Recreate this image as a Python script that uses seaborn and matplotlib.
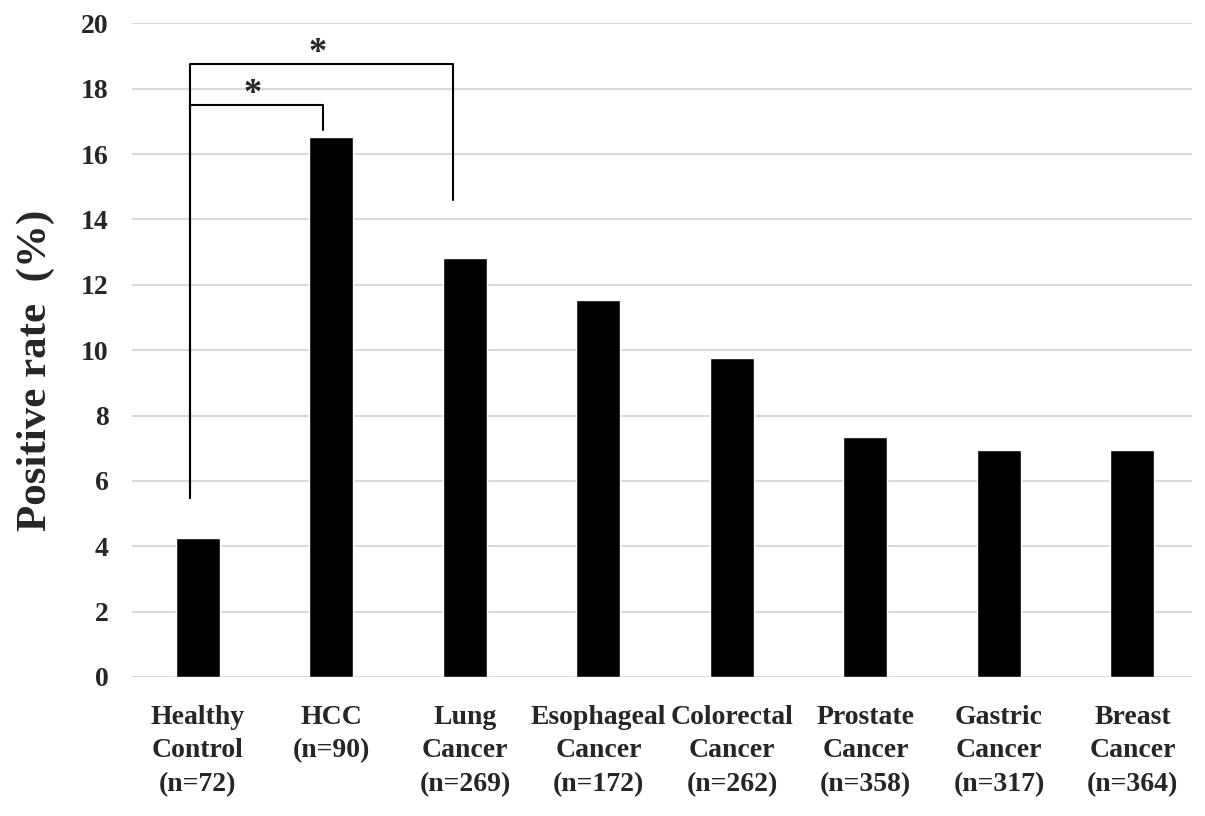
import matplotlib
matplotlib.use("Agg")
import matplotlib.pyplot as plt
import seaborn as sns
import pandas as pd

categories = ["Healthy\nControl\n(n=72)", "HCC\n(n=90)", "Lung\nCancer\n(n=269)",
              "Esophageal\nCancer\n(n=172)", "Colorectal\nCancer\n(n=262)",
              "Prostate\nCancer\n(n=358)", "Gastric\nCancer\n(n=317)",
              "Breast\nCancer\n(n=364)"]
positive_rate = [4.24, 16.52, 12.81, 11.53, 9.76, 7.34, 6.94, 6.94]
y_ticks = [0, 2, 4, 6, 8, 10, 12, 14, 16, 18, 20]

# significance brackets
bracket_x1 = [-0.06, -0.06]
bracket_x2 = [0.934, 1.91]
bracket_top = [17.51, 18.77]
bracket_left_bottom = [5.47, 5.47]
bracket_right_bottom = [16.73, 14.59]
bracket_label = ["*", "*"]

sns.set_theme(style="white")
plt.rcParams['font.family'] = ['Liberation Serif', 'DejaVu Serif']
plt.rcParams['font.weight'] = 'bold'

df = pd.DataFrame({"cat": categories, "rate": positive_rate})

fig = plt.figure(figsize=(12.05, 8.16), dpi=100)
ax = fig.add_axes([132/1205, 1-677/816, (1192-132)/1205, (677-23.3)/816])
sns.barplot(data=df, x="cat", y="rate", color="black", width=0.33, ax=ax,
            saturation=1, zorder=3)
ax.set_xlim(-0.494, 7.446)
ax.set_ylim(0, 20)
ax.set_yticks(y_ticks)
ax.yaxis.grid(True, color="#d9d9d9", linewidth=1.5, zorder=0)
ax.set_axisbelow(True)
for s in ax.spines.values():
    s.set_visible(False)
ax.tick_params(axis="y", length=0, pad=17, labelsize=20)
ax.tick_params(axis="x", length=0, pad=20, labelsize=20)
for lab in ax.get_yticklabels() + ax.get_xticklabels():
    lab.set_fontweight("bold")
for lab in ax.get_xticklabels():
    lab.set_linespacing(1.45)
ax.set_xlabel("")
ax.set_ylabel("Positive rate  (%)", fontsize=31, fontweight="bold")
ax.yaxis.set_label_coords(-(132 - 55) / 1060, (677 - 370) / (677 - 23.3))

for x1, x2, yt, yl, yr, t in zip(bracket_x1, bracket_x2, bracket_top,
                                 bracket_left_bottom, bracket_right_bottom, bracket_label):
    ax.plot([x1, x1, x2, x2], [yl, yt, yt, yr], color="black", lw=1.5, zorder=4,
            clip_on=False)
    ax.text((x1 + x2) / 2 - 0.03, yt + 0.3, t, ha="center", va="center",
            fontsize=26, fontweight="bold")

fig.savefig("out.png", dpi=100)
